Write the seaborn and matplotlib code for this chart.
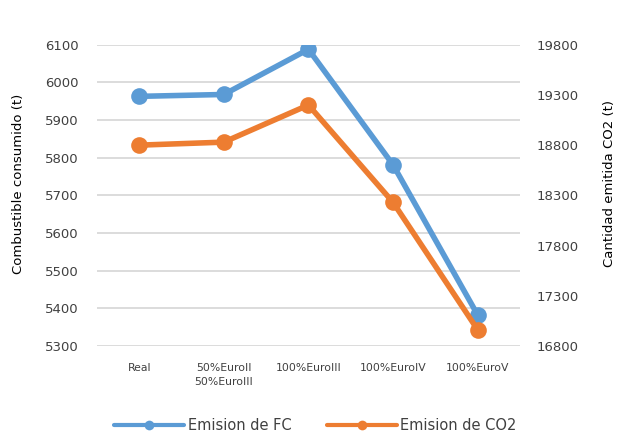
import matplotlib
matplotlib.use("Agg")
import matplotlib.pyplot as plt
from matplotlib.lines import Line2D
import seaborn as sns
import pandas as pd

# Scenario categories and emissions per scenario
categories = ["Real", "50%EuroII\n50%EuroIII", "100%EuroIII", "100%EuroIV", "100%EuroV"]
fuel_t = [5963, 5968, 6088, 5781, 5382]          # Emision de FC, left axis
co2_t = [18800, 18830, 19200, 18230, 16960]      # Emision de CO2, right axis
left_ticks = [5300, 5400, 5500, 5600, 5700, 5800, 5900, 6000, 6100]
right_ticks = [16800, 17300, 17800, 18300, 18800, 19300, 19800]
series_names = ["Emision de FC", "Emision de CO2"]

BLUE = "#5B9BD5"
ORANGE = "#ED7D31"
TEXT = "#404040"

sns.set_theme(style="white")
plt.rcParams["font.family"] = ["DejaVu Sans"]

df = pd.DataFrame({"escenario": categories, "fc": fuel_t, "co2": co2_t})
df["pos"] = range(len(df))

fig = plt.figure(figsize=(6.25, 4.48), dpi=100)
ax = fig.add_axes([0.155, 0.228, 0.677, 0.672])
ax2 = ax.twinx()

sns.lineplot(data=df, x="pos", y="fc", ax=ax, color=BLUE, lw=4,
             marker="o", markersize=12, markeredgewidth=0,
             legend=False, zorder=3)
sns.lineplot(data=df, x="pos", y="co2", ax=ax2, color=ORANGE, lw=4,
             marker="o", markersize=12, markeredgewidth=0,
             legend=False, zorder=3)

ax.set_xlim(-0.5, len(categories) - 0.5)
ax.set_ylim(left_ticks[0], left_ticks[-1])
ax2.set_ylim(right_ticks[0], right_ticks[-1])
ax.set_yticks(left_ticks)
ax2.set_yticks(right_ticks)
ax.set_xticks(df["pos"])
ax.set_xticklabels(categories, fontsize=7.8, color=TEXT, linespacing=1.6)

ax.grid(axis="y", color="#D9D9D9", lw=1.3)
ax.set_axisbelow(True)
ax2.grid(False)
for a in (ax, ax2):
    for s in a.spines.values():
        s.set_visible(False)
    a.tick_params(length=0)
ax.tick_params(axis="y", labelsize=9.5, labelcolor=TEXT, pad=13)
ax.tick_params(axis="x", pad=12)
ax2.tick_params(axis="y", labelsize=9.5, labelcolor=TEXT, pad=12)
ax.set_xlabel("")
ax.set_ylabel("")
ax2.set_ylabel("")

fig.text(0.030, 0.59, "Combustible consumido (t)", rotation=90, ha="center", va="center",
         fontsize=9.5, color="black")
fig.text(0.975, 0.59, "Cantidad emitida CO2 (t)", rotation=90, ha="center", va="center",
         fontsize=9.5, color="black")

handles = [Line2D([], [], color=c, lw=3, marker="o", markersize=7, markeredgewidth=0)
           for c in (BLUE, ORANGE)]
fig.legend(handles, series_names, loc="center",
           bbox_to_anchor=(0.505, 0.05), ncol=2, frameon=False, fontsize=10.5,
           handlelength=4.8, columnspacing=2.4, handletextpad=0.25,
           labelcolor=TEXT)

fig.savefig("out.png", dpi=100)
